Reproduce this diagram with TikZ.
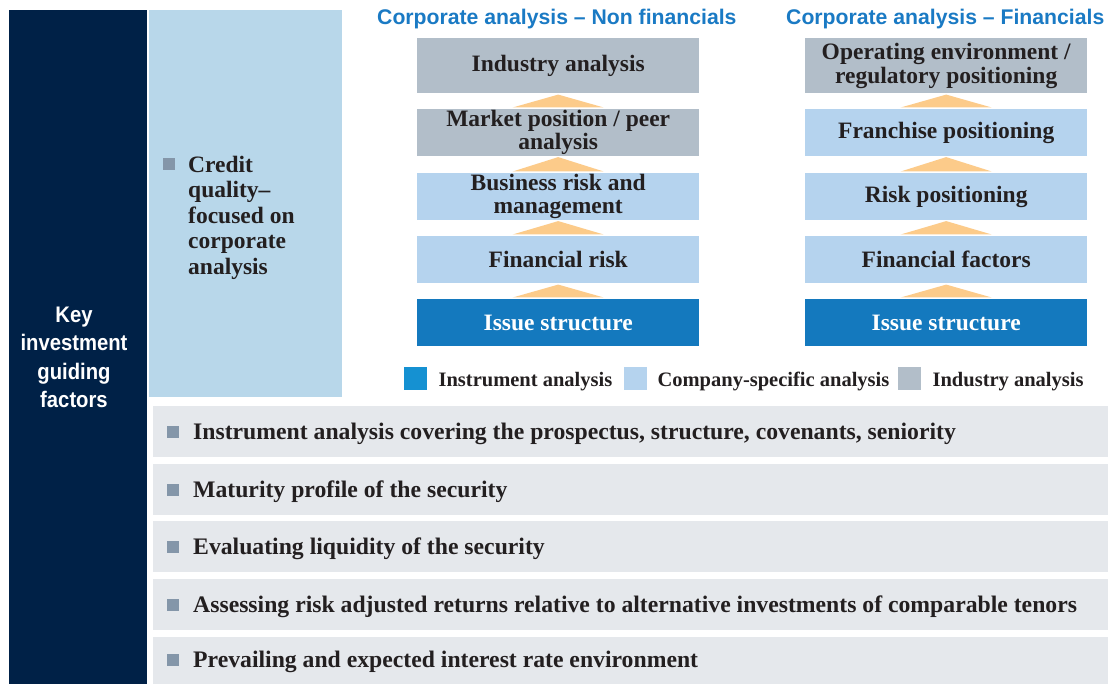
\documentclass[tikz,border=0pt]{standalone}
\usepackage{fontspec}
\setmainfont{Liberation Serif}
\newfontfamily\hsans{Liberation Sans}
\newfontfamily\condsans[FakeStretch=0.9]{Liberation Sans}
\usetikzlibrary{calc}
\definecolor{navy}{HTML}{002147}
\definecolor{panelc}{HTML}{B8D7EA}
\definecolor{rowc}{HTML}{E5E8EC}
\definecolor{indc}{HTML}{B2BEC9}
\definecolor{compc}{HTML}{B5D3EE}
\definecolor{instc}{HTML}{1479BE}
\definecolor{leginst}{HTML}{1591D2}
\definecolor{arrc}{HTML}{FCCB8A}
\definecolor{bulc}{HTML}{8496A9}
\definecolor{txtc}{HTML}{231F20}
\definecolor{headc}{HTML}{1A7AC4}
\tikzset{
  serifb/.style={font=\fontsize{23.5}{23.5}\selectfont\bfseries},
  flowbox/.style={anchor=north west, inner sep=0pt, minimum width=282pt, align=center,
    serifb, text=txtc},
  indbox/.style={flowbox, fill=indc},
  compbox/.style={flowbox, fill=compc},
  instbox/.style={flowbox, fill=instc, text=white},
  tri/.style={fill=arrc},
  rowbox/.style={anchor=north west, inner sep=0pt, minimum width=955pt, minimum height=51pt, fill=rowc},
  bulletsq/.style={fill=bulc, minimum size=12pt, inner sep=0pt, anchor=center},
  rowtext/.style={anchor=base west, inner sep=0pt, font=\fontsize{23.7}{24}\selectfont\bfseries, text=txtc},
  legsq/.style={minimum size=23pt, inner sep=0pt, anchor=north west},
  legtext/.style={anchor=base west, inner sep=0pt, font=\fontsize{20.5}{22}\selectfont\bfseries, text=txtc},
  heading/.style={anchor=base west, inner sep=0pt, font=\hsans\fontsize{21.2}{24}\selectfont\bfseries, text=headc}
}
\begin{document}
\begin{tikzpicture}[x=1pt,y=-1pt]
\useasboundingbox (0,0) rectangle (1109,684);
\fill[white] (0,0) rectangle (1109,684);

% left navy column
\node[anchor=north west, inner sep=0pt, minimum width=138pt, minimum height=674pt, fill=navy] (navy) at (9,10) {};
\node[anchor=north, inner sep=0pt, align=center, text=white,
  font=\condsans\fontsize{22.5}{28.3}\selectfont\bfseries] (key) at (74,307)
  {Key\\investment\\guiding\\factors};

% light blue panel
\node[anchor=north west, inner sep=0pt, minimum width=193pt, minimum height=387pt, fill=panelc] (panel) at (149,10) {};
\node[bulletsq, anchor=north west] (cb) at (163,158) {};
\node[anchor=north west, inner sep=0pt, align=left, text=txtc,
  font=\fontsize{23.5}{25.5}\selectfont\bfseries] (ct) at (188,155.5)
  {Credit\\quality–\\focused on\\corporate\\analysis};

% headings
\node[heading] (h1) at (377,25) {Corporate analysis – Non financials};
\node[heading] (h2) at (786,25) {Corporate analysis – Financials};

% left flow
\node[indbox, minimum height=55pt] (a1) at (417,38) {Industry analysis};
\node[indbox, minimum height=46.5pt] (a2) at (417,109) {Market position / peer\\analysis};
\node[compbox, minimum height=46.5pt] (a3) at (417,173) {Business risk and\\management};
\node[compbox, minimum height=47pt] (a4) at (417,236) {Financial risk};
\node[instbox, minimum height=47pt] (a5) at (417,299) {Issue structure};

% right flow
\node[indbox, minimum height=55pt] (f1) at (805,38) {Operating environment /\\regulatory positioning};
\node[compbox, minimum height=46.5pt] (f2) at (805,109) {Franchise positioning};
\node[compbox, minimum height=46.5pt] (f3) at (805,173) {Risk positioning};
\node[compbox, minimum height=47pt] (f4) at (805,236) {Financial factors};
\node[instbox, minimum height=47pt] (f5) at (805,299) {Issue structure};

% upward triangles
\foreach \lo/\up in {a2/a1,a3/a2,a4/a3,a5/a4,f2/f1,f3/f2,f4/f3,f5/f4}{
  \fill[tri] ([xshift=-45.5pt,yshift=1.5pt]\lo.north) -- ([xshift=45.5pt,yshift=1.5pt]\lo.north)
    -- ([yshift=-1.2pt]\up.south) -- cycle;
}

% legend
\node[legsq, fill=leginst] (l1) at (404,367) {};
\node[legtext] (lt1) at ($(l1.south east)+(11,-4)$) {Instrument analysis};
\node[legsq, fill=compc] (l2) at (624,367) {};
\node[legtext] (lt2) at ($(l2.south east)+(10,-4)$) {Company-specific analysis};
\node[legsq, fill=indc] (l3) at (898,367) {};
\node[legtext] (lt3) at ($(l3.south east)+(11,-4)$) {Industry analysis};

% bottom rows
\node[rowbox] (r1) at (153,406) {};
\node[rowbox] (r2) at (153,464) {};
\node[rowbox] (r3) at (153,521) {};
\node[rowbox] (r4) at (153,579) {};
\node[rowbox, minimum height=47pt] (r5) at (153,637) {};
\foreach \r/\t in {r1/{Instrument analysis covering the prospectus, structure, covenants, seniority},
                   r2/{Maturity profile of the security},
                   r3/{Evaluating liquidity of the security},
                   r4/{Assessing risk adjusted returns relative to alternative investments of comparable tenors}}{
  \node[bulletsq] (b\r) at ($(\r.west)+(20,0)$) {};
  \node[rowtext] (t\r) at ($(\r.west)+(40,7.5)$) {\t};
}
\node[bulletsq] (br5) at ($(r5.west)+(20,-0.5)$) {};
\node[rowtext] (tr5) at ($(r5.west)+(40,7)$) {Prevailing and expected interest rate environment};
\end{tikzpicture}
\end{document}
